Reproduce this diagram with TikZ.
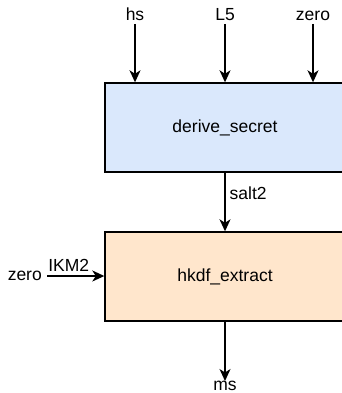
\documentclass[tikz,border=0pt]{standalone}
\usepackage{fontspec}
\setmainfont{Liberation Sans}
\usetikzlibrary{arrows.meta}
\definecolor{blueFill}{HTML}{DAE8FC}
\definecolor{orangeFill}{HTML}{FFE6CC}
\tikzset{
  block/.style={draw=black, line width=1.4pt, minimum width=240pt, minimum height=89pt, inner sep=0pt},
  lbl/.style={inner sep=0pt},
  flow/.style={line width=1.4pt, -{Stealth[length=12pt, width=11pt, inset=3.5pt]}},
}
\begin{document}
\begin{tikzpicture}[x=1pt, y=-1pt, font=\fontsize{17.5}{20}\selectfont]
  \useasboundingbox (0,0) rectangle (342,393);
  \begin{scope}
    \clip (0,0) rectangle (342,393);
    % processing blocks
    \node[block, fill=blueFill] (derive) at (225,127.5) {derive\_secret};
    \node[block, fill=orangeFill] (extract) at (225,276.5) {hkdf\_extract};
    % input labels
    \node[lbl, anchor=base] (hs) at (135,21) {hs};
    \node[lbl, anchor=base] (l5) at (225,21) {L5};
    \node[lbl, anchor=base] (zeroTop) at (313,21) {zero};
    \node[lbl, anchor=east] (zeroLeft) at (42,276) {zero};
    \coordinate (ikmStart) at (47,276);
    % output
    \node[lbl, anchor=north] (ms) at (225,381) {ms};
    % connectors
    \draw[flow] (hs.south |- 0,24) -- (hs.south |- derive.north);
    \draw[flow] (l5.south |- 0,24) -- (derive.north);
    \draw[flow] (zeroTop.south |- 0,24) -- (zeroTop.south |- derive.north);
    \draw[flow] (derive.south) -- node[lbl, anchor=west, xshift=4pt, pos=0.35] {salt2} (extract.north);
    \draw[flow] (ikmStart) -- node[lbl, anchor=south, pos=0.38, yshift=4pt] {IKM2} (extract.west |- ikmStart);
    \draw[flow] (extract.south) -- (ms.north);
  \end{scope}
\end{tikzpicture}
\end{document}
